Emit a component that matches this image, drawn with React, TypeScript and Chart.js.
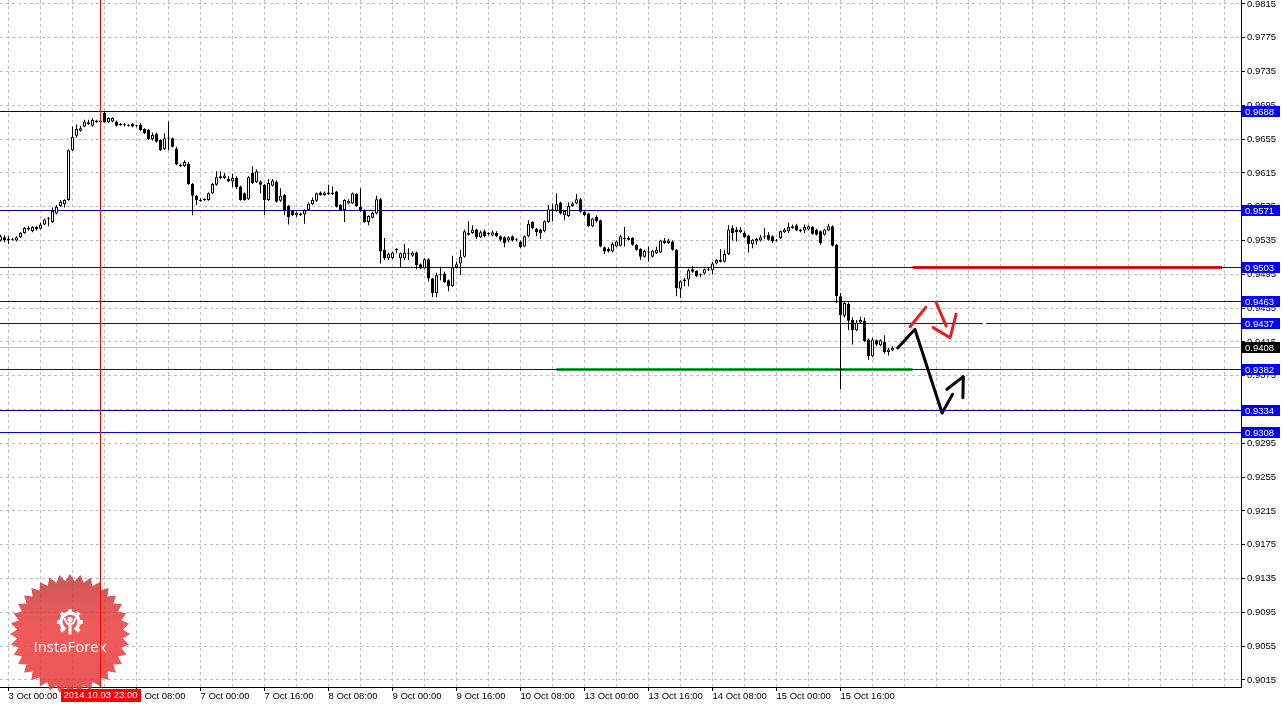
import React, { useEffect, useRef } from 'react';
import { Chart, registerables } from 'chart.js';

Chart.register(...registerables);

// ---------------- DATA ----------------
// hourly candles, index 0 = 3 Oct 00:00 (weekend skipped), first candle = 2 Oct 22:00
const FIRST_INDEX = -2;

const OPEN = [
  0.9535, 0.9539, 0.9537, 0.9536, 0.9535, 0.9539, 0.9544, 0.9548,
  0.9546, 0.9551, 0.9549, 0.9554, 0.9561, 0.9557, 0.9567, 0.9576,
  0.9578, 0.9583, 0.9642, 0.9659, 0.9665, 0.9670, 0.9675, 0.9671,
  0.9677, 0.9677, 0.9686, 0.9675, 0.9676, 0.9676, 0.9673, 0.9672,
  0.9672, 0.9673, 0.9671, 0.9672, 0.9667, 0.9666, 0.9655, 0.9661,
  0.9654, 0.9643, 0.9656, 0.9656, 0.9644, 0.9625, 0.9623, 0.9626,
  0.9602, 0.9588, 0.9583, 0.9583, 0.9583, 0.9591, 0.9601, 0.9609,
  0.9609, 0.9608, 0.9605, 0.9609, 0.9599, 0.9591, 0.9584, 0.9615,
  0.9604, 0.9605, 0.9601, 0.9583, 0.9600, 0.9605, 0.9582, 0.9589,
  0.9576, 0.9570, 0.9565, 0.9567, 0.9566, 0.9571, 0.9578, 0.9582,
  0.9592, 0.9589, 0.9590, 0.9592, 0.9593, 0.9577, 0.9571, 0.9579,
  0.9579, 0.9590, 0.9575, 0.9571, 0.9557, 0.9562, 0.9567, 0.9584,
  0.9524, 0.9514, 0.9514, 0.9524, 0.9514, 0.9514, 0.9519, 0.9517,
  0.9521, 0.9507, 0.9502, 0.9513, 0.9490, 0.9473, 0.9494, 0.9496,
  0.9488, 0.9481, 0.9503, 0.9508, 0.9516, 0.9544, 0.9544, 0.9548,
  0.9539, 0.9546, 0.9543, 0.9541, 0.9544, 0.9540, 0.9539, 0.9535,
  0.9540, 0.9536, 0.9534, 0.9528, 0.9540, 0.9557, 0.9549, 0.9548,
  0.9546, 0.9557, 0.9571, 0.9570, 0.9580, 0.9565, 0.9564, 0.9576,
  0.9579, 0.9584, 0.9569, 0.9567, 0.9552, 0.9563, 0.9559, 0.9527,
  0.9525, 0.9522, 0.9528, 0.9529, 0.9537, 0.9538, 0.9538, 0.9530,
  0.9525, 0.9516, 0.9521, 0.9516, 0.9520, 0.9521, 0.9535, 0.9532,
  0.9534, 0.9524, 0.9478, 0.9487, 0.9489, 0.9501, 0.9499, 0.9494,
  0.9496, 0.9501, 0.9500, 0.9508, 0.9512, 0.9510, 0.9519, 0.9550,
  0.9548, 0.9545, 0.9544, 0.9541, 0.9531, 0.9534, 0.9535, 0.9539,
  0.9542, 0.9540, 0.9536, 0.9538, 0.9545, 0.9546, 0.9550, 0.9553,
  0.9548, 0.9547, 0.9548, 0.9551, 0.9548, 0.9546, 0.9542, 0.9547,
  0.9552, 0.9530, 0.9469, 0.9446, 0.9460, 0.9441, 0.9429, 0.9438,
  0.9440, 0.9418, 0.9398, 0.9417, 0.9411, 0.9415, 0.9403, 0.9405,
];

const HIGH = [
  0.9542, 0.9541, 0.9540, 0.9538, 0.9540, 0.9545, 0.9551, 0.9552,
  0.9552, 0.9552, 0.9556, 0.9561, 0.9563, 0.9574, 0.9577, 0.9583,
  0.9584, 0.9643, 0.9670, 0.9672, 0.9671, 0.9678, 0.9678, 0.9680,
  0.9678, 0.9678, 0.9688, 0.9681, 0.9681, 0.9677, 0.9674, 0.9674,
  0.9673, 0.9674, 0.9672, 0.9674, 0.9668, 0.9667, 0.9663, 0.9663,
  0.9655, 0.9662, 0.9676, 0.9657, 0.9646, 0.9626, 0.9630, 0.9628,
  0.9603, 0.9589, 0.9585, 0.9585, 0.9592, 0.9603, 0.9617, 0.9617,
  0.9615, 0.9611, 0.9614, 0.9611, 0.9600, 0.9592, 0.9611, 0.9623,
  0.9619, 0.9606, 0.9602, 0.9608, 0.9608, 0.9606, 0.9597, 0.9590,
  0.9577, 0.9571, 0.9569, 0.9568, 0.9572, 0.9580, 0.9586, 0.9592,
  0.9593, 0.9593, 0.9601, 0.9599, 0.9594, 0.9578, 0.9584, 0.9584,
  0.9592, 0.9591, 0.9597, 0.9572, 0.9565, 0.9569, 0.9588, 0.9585,
  0.9538, 0.9521, 0.9522, 0.9526, 0.9521, 0.9531, 0.9526, 0.9522,
  0.9522, 0.9508, 0.9514, 0.9514, 0.9491, 0.9497, 0.9504, 0.9498,
  0.9489, 0.9517, 0.9510, 0.9524, 0.9548, 0.9558, 0.9553, 0.9549,
  0.9547, 0.9548, 0.9545, 0.9547, 0.9546, 0.9541, 0.9540, 0.9540,
  0.9541, 0.9538, 0.9535, 0.9541, 0.9559, 0.9558, 0.9550, 0.9549,
  0.9559, 0.9577, 0.9579, 0.9591, 0.9581, 0.9571, 0.9580, 0.9581,
  0.9590, 0.9585, 0.9571, 0.9568, 0.9562, 0.9565, 0.9560, 0.9528,
  0.9527, 0.9533, 0.9535, 0.9542, 0.9551, 0.9540, 0.9539, 0.9531,
  0.9526, 0.9524, 0.9528, 0.9524, 0.9528, 0.9536, 0.9538, 0.9537,
  0.9535, 0.9525, 0.9488, 0.9491, 0.9502, 0.9505, 0.9500, 0.9496,
  0.9502, 0.9503, 0.9510, 0.9513, 0.9525, 0.9524, 0.9553, 0.9553,
  0.9551, 0.9551, 0.9546, 0.9542, 0.9537, 0.9538, 0.9542, 0.9550,
  0.9545, 0.9541, 0.9537, 0.9547, 0.9550, 0.9556, 0.9554, 0.9555,
  0.9549, 0.9554, 0.9553, 0.9552, 0.9549, 0.9547, 0.9549, 0.9555,
  0.9553, 0.9531, 0.9473, 0.9463, 0.9462, 0.9444, 0.9441, 0.9445,
  0.9444, 0.9419, 0.9420, 0.9418, 0.9418, 0.9423, 0.9408, 0.9410,
];

const LOW = [
  0.9534, 0.9533, 0.9531, 0.9535, 0.9534, 0.9538, 0.9543, 0.9547,
  0.9545, 0.9547, 0.9548, 0.9553, 0.9552, 0.9556, 0.9566, 0.9575,
  0.9574, 0.9582, 0.9641, 0.9657, 0.9664, 0.9669, 0.9672, 0.9670,
  0.9674, 0.9674, 0.9674, 0.9674, 0.9675, 0.9670, 0.9671, 0.9670,
  0.9670, 0.9669, 0.9669, 0.9665, 0.9661, 0.9654, 0.9653, 0.9651,
  0.9641, 0.9642, 0.9642, 0.9645, 0.9624, 0.9622, 0.9622, 0.9601,
  0.9565, 0.9577, 0.9581, 0.9582, 0.9582, 0.9590, 0.9600, 0.9608,
  0.9608, 0.9604, 0.9598, 0.9596, 0.9582, 0.9582, 0.9583, 0.9602,
  0.9603, 0.9591, 0.9565, 0.9582, 0.9599, 0.9580, 0.9581, 0.9565,
  0.9554, 0.9564, 0.9563, 0.9564, 0.9555, 0.9570, 0.9577, 0.9581,
  0.9588, 0.9588, 0.9589, 0.9589, 0.9574, 0.9570, 0.9557, 0.9578,
  0.9578, 0.9575, 0.9569, 0.9556, 0.9553, 0.9561, 0.9566, 0.9508,
  0.9512, 0.9512, 0.9513, 0.9520, 0.9503, 0.9512, 0.9512, 0.9516,
  0.9501, 0.9501, 0.9501, 0.9487, 0.9468, 0.9468, 0.9488, 0.9485,
  0.9475, 0.9480, 0.9502, 0.9494, 0.9515, 0.9541, 0.9543, 0.9537,
  0.9538, 0.9539, 0.9541, 0.9540, 0.9539, 0.9534, 0.9527, 0.9533,
  0.9534, 0.9534, 0.9526, 0.9527, 0.9539, 0.9548, 0.9540, 0.9537,
  0.9545, 0.9556, 0.9558, 0.9569, 0.9566, 0.9559, 0.9563, 0.9575,
  0.9578, 0.9568, 0.9564, 0.9551, 0.9551, 0.9556, 0.9527, 0.9519,
  0.9521, 0.9521, 0.9527, 0.9528, 0.9528, 0.9535, 0.9529, 0.9523,
  0.9512, 0.9515, 0.9510, 0.9515, 0.9519, 0.9520, 0.9531, 0.9531,
  0.9523, 0.9469, 0.9467, 0.9481, 0.9481, 0.9497, 0.9492, 0.9492,
  0.9495, 0.9499, 0.9495, 0.9507, 0.9509, 0.9509, 0.9518, 0.9535,
  0.9534, 0.9544, 0.9538, 0.9521, 0.9526, 0.9530, 0.9534, 0.9537,
  0.9535, 0.9532, 0.9534, 0.9537, 0.9544, 0.9544, 0.9549, 0.9546,
  0.9545, 0.9544, 0.9547, 0.9542, 0.9541, 0.9530, 0.9541, 0.9546,
  0.9528, 0.9461, 0.9359, 0.9444, 0.9429, 0.9412, 0.9428, 0.9437,
  0.9415, 0.9394, 0.9397, 0.9410, 0.9410, 0.9401, 0.9399, 0.9404,
];

const CLOSE = [
  0.9540, 0.9535, 0.9535, 0.9537, 0.9539, 0.9544, 0.9550, 0.9550,
  0.9551, 0.9548, 0.9554, 0.9560, 0.9562, 0.9570, 0.9575, 0.9581,
  0.9583, 0.9642, 0.9658, 0.9667, 0.9668, 0.9676, 0.9673, 0.9678,
  0.9675, 0.9675, 0.9675, 0.9680, 0.9680, 0.9671, 0.9672, 0.9672,
  0.9671, 0.9670, 0.9671, 0.9666, 0.9662, 0.9655, 0.9660, 0.9652,
  0.9642, 0.9656, 0.9657, 0.9646, 0.9625, 0.9623, 0.9628, 0.9602,
  0.9588, 0.9583, 0.9582, 0.9584, 0.9591, 0.9602, 0.9610, 0.9611,
  0.9612, 0.9605, 0.9609, 0.9598, 0.9583, 0.9583, 0.9610, 0.9603,
  0.9617, 0.9601, 0.9583, 0.9603, 0.9606, 0.9581, 0.9588, 0.9570,
  0.9563, 0.9565, 0.9568, 0.9565, 0.9571, 0.9579, 0.9583, 0.9591,
  0.9589, 0.9592, 0.9592, 0.9590, 0.9575, 0.9571, 0.9583, 0.9582,
  0.9591, 0.9576, 0.9570, 0.9557, 0.9564, 0.9568, 0.9584, 0.9522,
  0.9514, 0.9519, 0.9521, 0.9525, 0.9520, 0.9521, 0.9520, 0.9521,
  0.9506, 0.9502, 0.9513, 0.9490, 0.9473, 0.9494, 0.9495, 0.9486,
  0.9481, 0.9503, 0.9507, 0.9516, 0.9546, 0.9542, 0.9548, 0.9539,
  0.9545, 0.9540, 0.9544, 0.9545, 0.9540, 0.9536, 0.9532, 0.9539,
  0.9535, 0.9537, 0.9527, 0.9540, 0.9555, 0.9550, 0.9545, 0.9544,
  0.9558, 0.9572, 0.9572, 0.9578, 0.9567, 0.9570, 0.9576, 0.9579,
  0.9584, 0.9569, 0.9565, 0.9552, 0.9561, 0.9558, 0.9528, 0.9522,
  0.9522, 0.9531, 0.9534, 0.9540, 0.9538, 0.9536, 0.9530, 0.9524,
  0.9516, 0.9523, 0.9522, 0.9523, 0.9524, 0.9535, 0.9532, 0.9535,
  0.9524, 0.9479, 0.9487, 0.9489, 0.9500, 0.9498, 0.9493, 0.9495,
  0.9501, 0.9500, 0.9508, 0.9512, 0.9510, 0.9519, 0.9548, 0.9544,
  0.9545, 0.9548, 0.9539, 0.9531, 0.9536, 0.9537, 0.9539, 0.9540,
  0.9536, 0.9534, 0.9535, 0.9546, 0.9548, 0.9551, 0.9552, 0.9547,
  0.9546, 0.9551, 0.9552, 0.9543, 0.9542, 0.9532, 0.9548, 0.9552,
  0.9529, 0.9469, 0.9447, 0.9461, 0.9440, 0.9429, 0.9438, 0.9441,
  0.9416, 0.9398, 0.9418, 0.9412, 0.9417, 0.9403, 0.9406, 0.9408,
];

// axis ticks
const X_TICK_INDEX = [0, 16, 32, 48, 64, 80, 96, 112, 128, 144, 160, 176, 192, 208];
const X_TICK_LABELS = [
  '3 Oct 00:00', '3 Oct 16:00', '6 Oct 08:00', '7 Oct 00:00', '7 Oct 16:00',
  '8 Oct 08:00', '9 Oct 00:00', '9 Oct 16:00', '10 Oct 08:00', '13 Oct 00:00',
  '13 Oct 16:00', '14 Oct 08:00', '15 Oct 00:00', '15 Oct 16:00',
];
const Y_TICK_LABELS = [
  '0.9015', '0.9055', '0.9095', '0.9135', '0.9175', '0.9215', '0.9255',
  '0.9295', '0.9335', '0.9375', '0.9415', '0.9455', '0.9495', '0.9535',
  '0.9575', '0.9615', '0.9655', '0.9695', '0.9735', '0.9775', '0.9815',
];

// horizontal levels
const LEVELS = [0.9688, 0.9571, 0.9503, 0.9463, 0.9437, 0.9382, 0.9334, 0.9308];
const DARK_LEVELS = [0.9688, 0.9571, 0.9334];
const BID = 0.9408;

// crosshair
const CROSSHAIR_INDEX = 23;
const CROSSHAIR_LABEL = '2014.10.03 23:00';

// drawn objects (index, price)
const SUPPORT_IDX = [137, 226];
const SUPPORT_PRICE = [0.9383, 0.9383];
const RESIST_IDX = [226, 303.4];
const RESIST_PRICE = [0.9503, 0.9503];
const BLACK_PATH_IDX = [222.3, 226.6, 233.4, 236.0];
const BLACK_PATH_PRICE = [0.9408, 0.9430, 0.9331, 0.9353];
const BLACK_HEAD_IDX = [234.6, 238.7, 238.6];
const BLACK_HEAD_PRICE = [0.9359, 0.9374, 0.9349];
const RED1_IDX = [225.4, 229.3];
const RED1_PRICE = [0.9433, 0.9456];
const RED2_IDX = [231.9, 234.4];
const RED2_PRICE = [0.9462, 0.9434];
const RED3_IDX = [231.2, 235.4, 236.9];
const RED3_PRICE = [0.9432, 0.9420, 0.9448];
const LEVEL_GAP_IDX = [243.6, 244.4]; // small gap in the 0.9437 line

// ---------------- CONFIG ----------------
const X_MIN = -2.125;
const X_MAX = X_MIN + 1241 / 4;
const Y_MIN = 0.90067;
const Y_MAX = 0.98197;
const MIN_BODY = 0.00012;
const FONT_FAMILY = '"Liberation Sans", Arial, sans-serif';
const FONT_SIZE = 9.5;
const GRID_COLOR = '#c0c0c0';

const pts = (xs: number[], ys: number[]) => xs.map((x, k) => ({ x, y: ys[k] }));

function lineDs(data: any[], color: string, width: number, order: number, snapY?: number) {
  return {
    type: 'line',
    data,
    borderColor: color,
    borderWidth: width,
    pointRadius: 0,
    fill: false,
    tension: 0,
    order,
    snapY,
    borderCapStyle: width > 1 && snapY === undefined ? 'round' : 'butt',
    borderJoinStyle: 'round',
  };
}

function drawLogo(ctx: CanvasRenderingContext2D, area: any) {
  const cx = area.left + 70;
  const cy = area.bottom - 53;
  const N = 36;
  const R = 60;
  const r = 53;
  ctx.save();
  ctx.beginPath();
  for (let k = 0; k < 2 * N; k++) {
    const a = -Math.PI / 2 + (k * Math.PI) / N;
    const rad = k % 2 === 0 ? R : r;
    const px = cx + rad * Math.cos(a);
    const py = cy + rad * Math.sin(a);
    if (k === 0) ctx.moveTo(px, py);
    else ctx.lineTo(px, py);
  }
  ctx.closePath();
  const g = ctx.createLinearGradient(0, cy - R, 0, cy + R);
  g.addColorStop(0, 'rgba(196,66,66,0.88)');
  g.addColorStop(0.5, 'rgba(240,68,68,0.88)');
  g.addColorStop(1, 'rgba(226,62,62,0.88)');
  ctx.fillStyle = g;
  ctx.fill();

  // icon
  const gx = cx;
  const gy = cy - 12;
  ctx.strokeStyle = '#ffffff';
  ctx.fillStyle = '#ffffff';
  ctx.lineWidth = 3.4;
  ctx.beginPath();
  ctx.arc(gx, gy, 9, Math.PI * 0.68, Math.PI * 2.32);
  ctx.stroke();
  for (let k = 0; k < 8; k++) {
    const a = -Math.PI / 2 + (k * Math.PI) / 4;
    if (Math.abs(Math.sin(a) - 1) < 0.05) continue;
    ctx.save();
    ctx.translate(gx + 11.2 * Math.cos(a), gy + 11.2 * Math.sin(a));
    ctx.rotate(a);
    ctx.fillRect(-1.8, -1.8, 3.6, 3.6);
    ctx.restore();
  }
  ctx.beginPath();
  ctx.arc(gx, gy - 2.5, 2.6, 0, Math.PI * 2);
  ctx.fill();
  ctx.fillRect(gx - 1.5, gy + 0.5, 3, 12);
  ctx.lineWidth = 2;
  ctx.beginPath();
  ctx.moveTo(gx - 5, gy - 4);
  ctx.quadraticCurveTo(gx - 4.5, gy + 2, gx - 1, gy + 2);
  ctx.moveTo(gx + 5, gy - 4);
  ctx.quadraticCurveTo(gx + 4.5, gy + 2, gx + 1, gy + 2);
  ctx.stroke();

  // text
  let size = 16;
  ctx.font = `${size}px "Open Sans", sans-serif`;
  const w = ctx.measureText('InstaForex').width;
  size = (size * 73) / w;
  ctx.font = `${size}px "Open Sans", sans-serif`;
  ctx.textAlign = 'center';
  ctx.textBaseline = 'middle';
  ctx.fillText('InstaForex', cx, cy + 14);
  ctx.restore();
}

const overlayPlugin = {
  id: 'mt4Overlay',
  beforeDatasetsDraw(chart: any) {
    drawLogo(chart.ctx, chart.chartArea);
  },
  // snap horizontal level lines onto the pixel grid so they render crisp
  beforeDatasetDraw(chart: any, args: any) {
    const ds = chart.data.datasets[args.index];
    if (ds && ds.snapY !== undefined) {
      const py = chart.scales.y.getPixelForValue(ds.snapY);
      const w = ds.borderWidth || 1;
      const target = w % 2 === 1 ? Math.floor(py) + 0.5 : Math.round(py);
      chart.ctx.save();
      chart.ctx.translate(0, target - py);
      ds.__snapped = true;
    }
  },
  afterDatasetDraw(chart: any, args: any) {
    const ds = chart.data.datasets[args.index];
    if (ds && ds.__snapped) {
      chart.ctx.restore();
      ds.__snapped = false;
    }
  },
  afterDraw(chart: any) {
    const { ctx, chartArea } = chart;
    const x = chart.scales.x;
    const y = chart.scales.y;
    ctx.save();
    ctx.font = `${FONT_SIZE}px ${FONT_FAMILY}`;
    ctx.textBaseline = 'middle';
    ctx.textAlign = 'left';
    const boxes = [...LEVELS.map((v) => ({ v, bg: '#0000ff' })), { v: BID, bg: '#000000' }];
    for (const b of boxes) {
      const py = Math.floor(y.getPixelForValue(b.v));
      ctx.fillStyle = b.bg;
      ctx.fillRect(chartArea.right + 1, py - 5, 38, 11);
      ctx.fillStyle = '#ffffff';
      ctx.fillText(b.v.toFixed(4), chartArea.right + 4, py + 1);
    }
    const px = x.getPixelForValue(CROSSHAIR_INDEX);
    ctx.fillStyle = '#ff0000';
    ctx.fillRect(Math.round(px) - 40, chartArea.bottom + 2, 80, 13);
    ctx.fillStyle = '#ffffff';
    ctx.textAlign = 'center';
    ctx.fillText(CROSSHAIR_LABEL, px, chartArea.bottom + 8.5);
    ctx.restore();
  },
};

function buildConfig() {
  const bodies = OPEN.map((o, k) => {
    const c = CLOSE[k];
    let lo = Math.min(o, c);
    let hi = Math.max(o, c);
    if (hi - lo < MIN_BODY) {
      const m = (hi + lo) / 2;
      lo = m - MIN_BODY / 2;
      hi = m + MIN_BODY / 2;
    }
    return { x: FIRST_INDEX + k, y: [lo, hi] };
  });
  const bodyColors = OPEN.map((o, k) => (CLOSE[k] >= o ? '#ffffff' : '#000000'));
  const wicks = OPEN.map((o, k) => ({
    x: FIRST_INDEX + k,
    y: [Math.min(LOW[k], o, CLOSE[k]), Math.max(HIGH[k], o, CLOSE[k])],
  }));

  const levelSets: any[] = [];
  LEVELS.forEach((lv) => {
    const color = DARK_LEVELS.includes(lv) ? '#00009c' : '#0000ff';
    if (lv === 0.9437) {
      levelSets.push(lineDs(pts([X_MIN, LEVEL_GAP_IDX[0]], [lv, lv]), color, 1, 3, lv));
      levelSets.push(lineDs(pts([LEVEL_GAP_IDX[1], X_MAX], [lv, lv]), color, 1, 3, lv));
    } else {
      levelSets.push(lineDs(pts([X_MIN, X_MAX], [lv, lv]), color, 1, 3, lv));
    }
  });

  const xGrid: number[] = [];
  for (let v = 0; v <= X_MAX; v += 8) xGrid.push(v);
  const labelOf = (v: number) => {
    const k = X_TICK_INDEX.indexOf(v);
    return k >= 0 ? X_TICK_LABELS[k] : '';
  };
  const tickFont = { family: FONT_FAMILY, size: FONT_SIZE };

  return {
    type: 'bar',
    data: {
      datasets: [
        {
          type: 'bar',
          data: bodies,
          backgroundColor: bodyColors,
          borderColor: '#000000',
          borderWidth: 1,
          borderSkipped: false,
          barThickness: 3,
          grouped: false,
          inflateAmount: 0,
          order: 1,
        },
        {
          type: 'bar',
          data: wicks,
          backgroundColor: '#000000',
          borderWidth: 0,
          barThickness: 1,
          grouped: false,
          inflateAmount: 0,
          order: 2,
        },
        ...levelSets,
        lineDs(pts([X_MIN, X_MAX], [BID, BID]), '#c0c0c0', 1, 3, BID),
        lineDs(pts(SUPPORT_IDX, SUPPORT_PRICE), '#1fb04a', 3, 3, SUPPORT_PRICE[0]),
        lineDs(pts(RESIST_IDX, RESIST_PRICE), '#ee2222', 3, 3, RESIST_PRICE[0]),
        lineDs(pts([CROSSHAIR_INDEX, CROSSHAIR_INDEX], [Y_MIN, Y_MAX]), '#ff0000', 1, 0),
        lineDs(pts(BLACK_PATH_IDX, BLACK_PATH_PRICE), '#000000', 3, 0),
        lineDs(pts(BLACK_HEAD_IDX, BLACK_HEAD_PRICE), '#000000', 3, 0),
        lineDs(pts(RED1_IDX, RED1_PRICE), '#ee1c1c', 3, 0),
        lineDs(pts(RED2_IDX, RED2_PRICE), '#ee1c1c', 3, 0),
        lineDs(pts(RED3_IDX, RED3_PRICE), '#ee1c1c', 3, 0),
      ],
    },
    options: {
      responsive: false,
      animation: false,
      devicePixelRatio: 1,
      events: [],
      layout: { padding: 0 },
      plugins: { legend: { display: false }, tooltip: { enabled: false } },
      scales: {
        x: {
          type: 'linear',
          position: 'bottom',
          min: X_MIN,
          max: X_MAX,
          offset: false,
          afterBuildTicks: (s: any) => {
            s.ticks = xGrid.map((v) => ({ value: v }));
          },
          afterFit: (s: any) => {
            s.height = 18;
            s.paddingLeft = 0;
            s.paddingRight = 0;
          },
          ticks: {
            autoSkip: false,
            maxRotation: 0,
            minRotation: 0,
            align: 'start',
            padding: 0,
            color: '#000000',
            font: tickFont,
            callback: (v: any) => labelOf(v),
          },
          grid: {
            offset: false,
            color: GRID_COLOR,
            lineWidth: 1,
            tickLength: 4,
            tickWidth: 1,
            tickBorderDash: [],
            tickColor: (ctx: any) =>
              ctx.tick && X_TICK_INDEX.includes(ctx.tick.value) ? '#000000' : 'rgba(0,0,0,0)',
            borderDash: [3, 3],
          },
          border: { display: true, color: '#000000', width: 1, dash: [3, 3] },
        },
        y: {
          type: 'linear',
          position: 'right',
          min: Y_MIN,
          max: Y_MAX,
          afterBuildTicks: (s: any) => {
            s.ticks = Y_TICK_LABELS.map((t) => ({ value: parseFloat(t) }));
          },
          afterFit: (s: any) => {
            s.width = 42;
            s.paddingTop = 0;
            s.paddingBottom = 0;
          },
          ticks: {
            autoSkip: false,
            padding: 2,
            color: '#000000',
            font: tickFont,
            callback: (v: any) => Number(v).toFixed(4),
          },
          grid: {
            color: GRID_COLOR,
            lineWidth: 1,
            tickLength: 4,
            tickWidth: 1,
            tickColor: '#000000',
            tickBorderDash: [],
            borderDash: [3, 3],
          },
          border: { display: true, color: '#000000', width: 1, dash: [3, 3] },
        },
      },
    },
    plugins: [overlayPlugin],
  };
}

export default function App() {
  const ref = useRef<HTMLCanvasElement>(null);
  useEffect(() => {
    document.body.style.margin = '0';
    const chart = new Chart(ref.current as HTMLCanvasElement, buildConfig() as any);
    return () => chart.destroy();
  }, []);
  return (
    <div style={{ width: 1283, height: 705, background: '#ffffff' }}>
      <canvas ref={ref} width={1283} height={705} style={{ display: 'block' }} />
    </div>
  );
}
